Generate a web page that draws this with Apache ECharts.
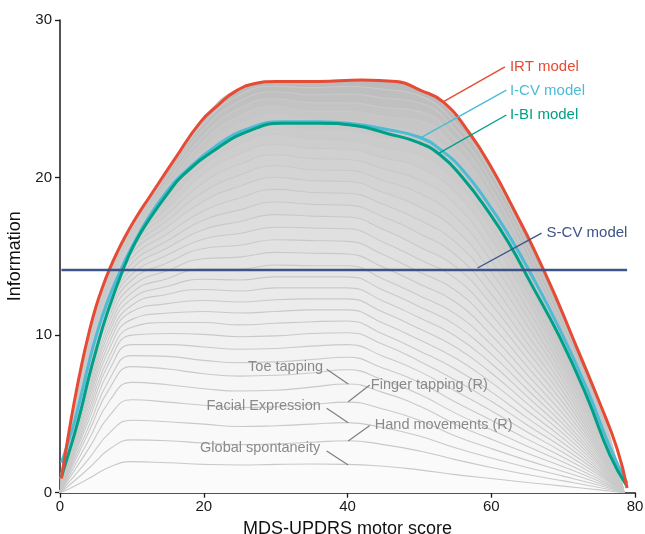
<!DOCTYPE html>
<html>
<head>
<meta charset="utf-8">
<script src="https://cdn.jsdelivr.net/npm/echarts@6/dist/echarts.min.js"></script>
<style>
html,body{margin:0;padding:0;background:#ffffff;overflow:hidden;}
#chart{width:645px;height:534px;}
</style>
</head>
<body>
<div id="chart"></div>
<script>
// ---------- DATA ----------
// MDS-UPDRS motor score positions at which the cumulative item information was read
const scorePoints = [0, 1.5, 4, 7, 10, 15, 20, 25, 30, 35, 40, 45, 50, 55, 60, 65, 70, 75, 78.5];

// Cumulative (stacked) item information, bottom curve first (Global spontaneity) to top curve (sum of items)
const stackedInfo = [
  /* 0    */ [0,0,0,0,0,0,0,0,0,0,0,0,0,0,0,0,0,0,0,0,0,0,0,0,0,0,0,0,0,0,0,0,0.9],
  /* 1.5  */ [0.3,0.55,0.8,1.05,1.25,1.45,1.6,1.75,1.85,1.95,2.1,2.2,2.3,2.4,2.5,2.6,2.7,2.8,2.9,3.0,3.1,3.2,3.3,3.4,3.5,3.6,3.7,3.8,3.9,4.0,4.1,4.25,4.5],
  /* 4    */ [0.9,1.55,2.15,2.8,3.35,3.85,4.2,4.6,4.9,5.2,5.5,5.8,6.05,6.3,6.55,6.8,7.05,7.3,7.55,7.8,8.05,8.3,8.55,8.8,9.0,9.2,9.4,9.55,9.7,9.85,10.0,10.1,10.2],
  /* 7    */ [1.65,2.8,3.85,4.95,5.9,6.7,7.3,7.9,8.4,8.8,9.25,9.65,10.0,10.35,10.65,11.0,11.35,11.65,11.9,12.2,12.5,12.75,13.0,13.25,13.45,13.65,13.85,13.95,14.05,14.15,14.2,14.25,14.3],
  /* 10   */ [1.97,3.35,4.6,5.9,7.0,8.0,8.7,9.4,10.0,10.5,11.0,11.5,11.9,12.3,12.7,13.1,13.5,13.85,14.2,14.55,14.9,15.2,15.5,15.75,16.0,16.2,16.4,16.6,16.75,16.85,16.95,17.0,17.05],
  /* 15   */ [1.9,3.3,4.5,5.75,6.85,7.85,8.65,9.4,10.1,10.8,11.4,12.0,12.6,13.1,13.6,14.1,14.6,15.1,15.55,16.0,16.45,16.9,17.3,17.7,18.1,18.5,18.85,19.2,19.5,19.8,20.1,20.35,20.55],
  /* 20   */ [1.8,3.15,4.35,5.55,6.6,7.55,8.4,9.25,10.05,10.8,11.5,12.2,12.9,13.55,14.2,14.85,15.5,16.1,16.7,17.3,17.9,18.5,19.1,19.7,20.25,20.8,21.3,21.8,22.3,22.7,23.1,23.45,23.75],
  /* 25   */ [1.76,3.05,4.2,5.4,6.45,7.4,8.25,9.1,9.9,10.65,11.4,12.1,12.8,13.5,14.2,14.95,15.7,16.45,17.2,17.95,18.7,19.45,20.15,20.85,21.5,22.15,22.75,23.35,23.9,24.4,24.85,25.25,25.65],
  /* 30   */ [1.8,3.1,4.25,5.45,6.5,7.45,8.3,9.15,9.95,10.75,11.5,12.25,13.0,13.7,14.45,15.25,16.05,16.85,17.65,18.45,19.25,20.0,20.75,21.45,22.1,22.75,23.35,23.95,24.5,25.0,25.45,25.8,26.1],
  /* 35   */ [1.82,3.2,4.35,5.6,6.7,7.6,8.45,9.3,10.1,10.85,11.6,12.3,13.0,13.7,14.4,15.2,16.0,16.8,17.55,18.3,19.05,19.8,20.5,21.2,21.85,22.45,23.05,23.65,24.2,24.75,25.25,25.7,26.1],
  /* 40   */ [1.8,3.3,4.45,5.75,6.9,7.8,8.6,9.4,10.15,10.9,11.6,12.3,13.0,13.7,14.4,15.15,15.95,16.75,17.5,18.25,19.0,19.75,20.45,21.15,21.8,22.4,23.0,23.6,24.2,24.75,25.3,25.8,26.2],
  /* 45   */ [1.68,3.05,4.12,5.3,6.35,7.15,7.9,8.65,9.4,10.05,10.75,11.45,12.15,12.85,13.55,14.3,15.1,15.9,16.7,17.5,18.3,19.05,19.8,20.55,21.25,21.9,22.55,23.2,23.85,24.45,25.05,25.6,26.15],
  /* 50   */ [1.45,2.65,3.6,4.6,5.5,6.25,7.0,7.7,8.35,9.0,9.7,10.4,11.1,11.8,12.5,13.25,14.0,14.8,15.6,16.45,17.3,18.15,19.0,19.85,20.65,21.45,22.2,22.9,23.6,24.2,24.75,25.2,25.6],
  /* 55   */ [1.15,2.1,2.85,3.6,4.35,5.05,5.75,6.45,7.15,7.85,8.55,9.25,9.95,10.65,11.35,12.1,12.85,13.6,14.35,15.1,15.9,16.7,17.5,18.3,19.05,19.8,20.5,21.2,21.85,22.45,23.0,23.45,23.9],
  /* 60   */ [0.9,1.6,2.2,2.8,3.4,4.0,4.6,5.2,5.8,6.4,7.0,7.6,8.2,8.8,9.4,10.0,10.65,11.3,11.95,12.6,13.3,14.0,14.7,15.4,16.1,16.8,17.45,18.1,18.7,19.3,19.8,20.3,20.7],
  /* 65   */ [0.65,1.15,1.6,2.05,2.5,2.95,3.4,3.85,4.3,4.75,5.2,5.65,6.1,6.55,7.0,7.5,8.0,8.5,9.0,9.5,10.05,10.6,11.15,11.7,12.25,12.8,13.35,13.9,14.4,14.9,15.4,15.85,16.3],
  /* 70   */ [0.42,0.75,1.05,1.35,1.65,1.95,2.25,2.55,2.85,3.15,3.45,3.75,4.05,4.35,4.65,5.0,5.35,5.7,6.05,6.4,6.75,7.1,7.45,7.8,8.15,8.5,8.85,9.25,9.65,10.05,10.45,10.9,11.3],
  /* 75   */ [0.18,0.33,0.47,0.6,0.73,0.86,0.99,1.12,1.25,1.38,1.51,1.64,1.77,1.9,2.05,2.2,2.35,2.5,2.65,2.8,2.95,3.15,3.35,3.55,3.75,3.95,4.2,4.45,4.7,4.95,5.2,5.5,5.8],
  /* 78.5 */ [0,0,0,0,0,0,0,0,0,0,0,0,0,0,0,0,0,0,0,0,0,0,0,0,0,0,0,0,0,0,0,0,0]
];

// IRT model (red)
const irtScore = [0.2, 1, 2, 3, 4, 5, 6, 7, 8, 9, 10.5, 12.5, 16, 19.5, 22, 24.5, 27, 30, 36, 42, 46.8, 50.1, 53.3, 57, 60.2, 63, 66, 69, 72, 75, 77.5, 78.9];
const irtInfo  = [0.9, 3.2, 5.8, 8.1, 10.1, 11.8, 13.15, 14.3, 15.3, 16.2, 17.4, 18.8, 21.2, 23.5, 24.6, 25.5, 25.95, 26.1, 26.1, 26.2, 26.1, 25.55, 24.8, 22.8, 20.5, 18.1, 15.4, 12.4, 9.1, 5.8, 2.8, 0.3];

// I-CV model (cyan)
const icvScore = [0.2, 1, 2, 3, 4, 5, 6.5, 8.4, 10, 12.5, 15, 17, 22, 26.5, 31, 36, 41, 45.5, 50, 53, 56, 59.5, 62.5, 65.5, 69.5, 73.3, 76.5, 78.9];
const icvInfo  = [1.9, 3.0, 4.5, 6.3, 8.2, 9.9, 12.0, 14.1, 15.6, 17.6, 19.2, 20.2, 22.1, 23.15, 23.55, 23.55, 23.4, 23.05, 22.56, 21.75, 20.5, 18.4, 16.3, 13.9, 10.4, 6.6, 2.9, 0.6];

// I-BI model (green)
const ibiScore = [0.2, 1, 2, 3, 4, 5, 6.5, 8.8, 10.5, 12.5, 15, 17, 22, 26.5, 31, 36, 41, 45.5, 50, 53, 56, 59.5, 62.5, 65.5, 69.5, 73.3, 76.5, 78.9];
const ibiInfo  = [1.0, 2.2, 3.7, 5.4, 7.3, 9.0, 11.3, 14.2, 15.9, 17.4, 19.0, 20.1, 21.9, 23.0, 23.45, 23.45, 23.3, 22.8, 22.2, 21.4, 20.0, 17.9, 15.8, 13.3, 9.9, 6.1, 2.4, 0.4];

// S-CV model (navy, constant)
const scvScore = [0.2, 78.9];
const scvInfo  = [14.13, 14.13];

// Axis ticks
const xTicks = [0, 20, 40, 60, 80];
const yTicks = [0, 10, 20, 30];

// ---------- ANNOTATIONS (text + leader anchors in data units) ----------
const itemLabels = [
  {text: 'Toe tapping',        at: [36.6, 7.98], side: 'right', leader: [[37.1, 7.83], [40.1, 6.9]]},
  {text: 'Facial Expression',  at: [36.3, 5.52], side: 'right', leader: [[37.1, 5.36], [40.1, 4.44]]},
  {text: 'Global spontaneity', at: [36.2, 2.84], side: 'right', leader: [[37.1, 2.65], [40.1, 1.76]]},
  {text: 'Finger tapping (R)', at: [43.25, 6.83], side: 'left', leader: [[40.1, 5.77], [43.1, 6.83]]},
  {text: 'Hand movements (R)', at: [43.8, 4.3],  side: 'left', leader: [[40.1, 3.28], [43.1, 4.26]]}
];
const modelLabels = [
  {text: 'IRT model',  color: '#E64B35', at: [62.6, 27.0],  leader: [[53.3, 24.8], [61.9, 27.03]]},
  {text: 'I-CV model', color: '#4DBBD5', at: [62.6, 25.49], leader: [[50.1, 22.5], [62.1, 25.55]]},
  {text: 'I-BI model', color: '#00A087', at: [62.6, 23.97], leader: [[52.5, 21.49], [62.1, 23.97]]},
  {text: 'S-CV model', color: '#3C5488', at: [67.7, 16.48], leader: [[58.1, 14.26], [67.0, 16.48]]}
];

// ---------- CHART ----------
const FONT = '"Liberation Sans", Arial, Helvetica, sans-serif';
const chart = echarts.init(document.getElementById('chart'), null, {renderer: 'canvas'});
const nCurves = stackedInfo[0].length;

function bandColor(k) {
  const t = k / (nCurves - 1);
  const g = Math.round(251 - 64 * Math.pow(t, 1.35));
  return 'rgb(' + g + ',' + g + ',' + g + ')';
}

const series = [];
for (let k = nCurves - 1; k >= 0; k--) {
  series.push({
    type: 'line',
    data: scorePoints.map((x, i) => [x, stackedInfo[i][k]]),
    smooth: 0.5,
    symbol: 'none',
    silent: true,
    z: 2,
    lineStyle: {color: '#c9c9c9', width: 1.1},
    areaStyle: {color: bandColor(k), opacity: 1}
  });
}

function modelSeries(xs, ys, color, width) {
  return {
    type: 'line',
    data: xs.map((x, i) => [x, ys[i]]),
    smooth: 0.5,
    symbol: 'none',
    silent: true,
    z: 5,
    lineStyle: {color: color, width: width, cap: 'butt', join: 'round'}
  };
}
series.push(modelSeries(icvScore, icvInfo, '#4DBBD5', 3));
series.push(modelSeries(ibiScore, ibiInfo, '#00A087', 3));
series.push(modelSeries(irtScore, irtInfo, '#E64B35', 3));
series.push(modelSeries(scvScore, scvInfo, '#3C5488', 2.4));

chart.setOption({
  animation: false,
  backgroundColor: '#ffffff',
  grid: {left: 60, right: 10, top: 20, bottom: 41.3, containLabel: false, outerBoundsMode: 'none'},
  xAxis: {
    type: 'value', min: xTicks[0], max: xTicks[xTicks.length - 1], interval: 20,
    name: 'MDS-UPDRS motor score', nameLocation: 'middle', nameGap: 23,
    nameTextStyle: {fontFamily: FONT, fontSize: 18, color: '#111'},
    axisLine: {show: true, lineStyle: {color: '#1a1a1a', width: 1.5}},
    axisTick: {show: true, length: 5, lineStyle: {color: '#1a1a1a', width: 1.3}},
    axisLabel: {fontFamily: FONT, fontSize: 15, color: '#1a1a1a', margin: 7},
    splitLine: {show: false}
  },
  yAxis: {
    type: 'value', min: yTicks[0], max: yTicks[yTicks.length - 1], interval: 10,
    name: 'Information', nameLocation: 'middle', nameGap: 31, nameRotate: 90,
    nameTextStyle: {fontFamily: FONT, fontSize: 18, color: '#111'},
    axisLine: {show: true, lineStyle: {color: '#1a1a1a', width: 1.5}},
    axisTick: {show: true, length: 5, lineStyle: {color: '#1a1a1a', width: 1.3}},
    axisLabel: {fontFamily: FONT, fontSize: 15, color: '#1a1a1a', margin: 8},
    splitLine: {show: false}
  },
  series: series
});

// annotations positioned via the chart's own coordinate conversion
const px = p => chart.convertToPixel({gridIndex: 0}, p);
const graphics = [];
itemLabels.forEach(l => {
  const a = px(l.leader[0]), b = px(l.leader[1]), t = px(l.at);
  graphics.push({type: 'line', z: 20, silent: true,
    shape: {x1: a[0], y1: a[1], x2: b[0], y2: b[1]},
    style: {stroke: '#7f7f7f', lineWidth: 1.2}});
  graphics.push({type: 'text', z: 20, silent: true, x: t[0], y: t[1],
    style: {text: l.text, fill: '#8a8a8a', font: '14.5px ' + FONT,
      align: l.side === 'right' ? 'right' : 'left', verticalAlign: 'middle',
      textAlign: l.side === 'right' ? 'right' : 'left', textVerticalAlign: 'middle'}});
});
modelLabels.forEach(l => {
  const a = px(l.leader[0]), b = px(l.leader[1]), t = px(l.at);
  graphics.push({type: 'line', z: 20, silent: true,
    shape: {x1: a[0], y1: a[1], x2: b[0], y2: b[1]},
    style: {stroke: l.color, lineWidth: 1.4}});
  graphics.push({type: 'text', z: 20, silent: true, x: t[0], y: t[1],
    style: {text: l.text, fill: l.color, font: '15px ' + FONT,
      align: 'left', verticalAlign: 'middle', textAlign: 'left', textVerticalAlign: 'middle'}});
});
chart.setOption({graphic: graphics});
</script>
</body>
</html>
